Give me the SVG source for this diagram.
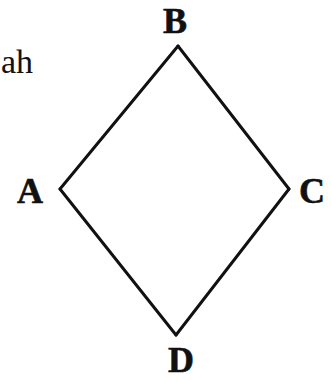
<svg xmlns="http://www.w3.org/2000/svg" width="331" height="382" viewBox="0 0 331 382">
<style>
.lbl{font-family:"Liberation Serif","DejaVu Serif",serif;font-weight:bold;font-size:36px;fill:#111;stroke:#111;stroke-width:0.6;text-anchor:middle}
.txt{font-family:"Liberation Serif","DejaVu Serif",serif;font-size:34px;fill:#111;text-anchor:start}
.edge{stroke:#111;stroke-width:3;fill:none;stroke-linecap:round;stroke-linejoin:miter}
</style>
<rect width="331" height="382" fill="#fff"/>
<text class="txt" x="1" y="73">ah</text>
<g id="edges">
<line class="edge" x1="178" y1="46" x2="289" y2="189"/>
<line class="edge" x1="289" y1="189" x2="176" y2="335"/>
<line class="edge" x1="176" y1="335" x2="60" y2="189"/>
<line class="edge" x1="60" y1="189" x2="178" y2="46"/>
</g>
<g id="node-B"><text class="lbl" x="175" y="33">B</text></g>
<g id="node-A"><text class="lbl" x="30" y="203">A</text></g>
<g id="node-C"><text class="lbl" x="312" y="203">C</text></g>
<g id="node-D"><text class="lbl" x="181" y="372">D</text></g>
</svg>
